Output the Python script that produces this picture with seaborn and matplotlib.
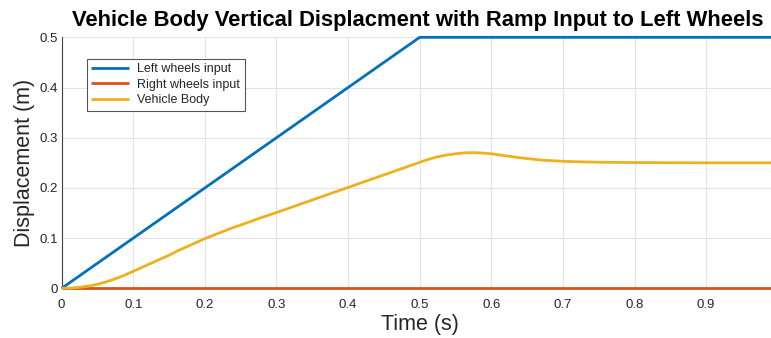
import matplotlib
matplotlib.use("Agg")
import matplotlib.pyplot as plt
import seaborn as sns
import pandas as pd

# ---- data ----
left_t = [0.0, 0.5, 1.0]
left_y = [0.0, 0.5, 0.5]
right_t = [0.0, 1.0]
right_y = [0.0, 0.0]
body_t = [0, 0.0125, 0.025, 0.0375, 0.05, 0.0625, 0.075, 0.0875, 0.1, 0.1125,
          0.125, 0.1375, 0.15, 0.1625, 0.175, 0.1875, 0.2, 0.2125, 0.225, 0.2375,
          0.25, 0.275, 0.3, 0.35, 0.4, 0.45, 0.475, 0.5, 0.5125, 0.525, 0.5375,
          0.55, 0.5625, 0.575, 0.5875, 0.6, 0.6125, 0.625, 0.6375, 0.65, 0.6625,
          0.675, 0.6875, 0.7, 0.725, 0.75, 0.8, 0.9, 1.0]
body_y = [0, 0.0005, 0.002, 0.0045, 0.008, 0.013, 0.019, 0.026, 0.034, 0.042,
          0.050, 0.058, 0.066, 0.075, 0.083, 0.091, 0.099, 0.106, 0.113, 0.120,
          0.126, 0.139, 0.151, 0.176, 0.201, 0.226, 0.2385, 0.251, 0.257, 0.262,
          0.2655, 0.268, 0.2698, 0.2702, 0.2695, 0.268, 0.2655, 0.263, 0.2605,
          0.2585, 0.2565, 0.255, 0.254, 0.253, 0.252, 0.2512, 0.2505, 0.250, 0.250]
series_names = ["Left wheels input", "Right wheels input", "Vehicle Body"]
x_ticks = [0, 0.1, 0.2, 0.3, 0.4, 0.5, 0.6, 0.7, 0.8, 0.9]
y_ticks = [0, 0.1, 0.2, 0.3, 0.4, 0.5]

df = pd.concat([
    pd.DataFrame({"t": left_t, "y": left_y, "s": series_names[0]}),
    pd.DataFrame({"t": right_t, "y": right_y, "s": series_names[1]}),
    pd.DataFrame({"t": body_t, "y": body_y, "s": series_names[2]}),
], ignore_index=True)

sns.set_theme(style="white")
plt.rcParams["font.family"] = ["Liberation Sans", "DejaVu Sans"]

fig = plt.figure(figsize=(7.71, 3.38), dpi=100)
ax = fig.add_axes([0.080, 0.147, 0.9287, 0.7426])

palette = {series_names[0]: "#0072BD", series_names[1]: "#D95319",
           series_names[2]: "#EDB120"}
sns.lineplot(data=df, x="t", y="y", hue="s", palette=palette, ax=ax,
             linewidth=2.0, sort=False, estimator=None)
for ln in ax.get_lines():
    ln.set_clip_on(False)
    ln.set_zorder(3)
    ln.set_solid_capstyle("butt")

ax.set_xlim(0, 1)
ax.set_ylim(0, 0.5)
ax.set_xticks(x_ticks)
ax.set_xticklabels([("0" if v == 0 else f"{v:g}") for v in x_ticks])
ax.set_yticks(y_ticks)
ax.set_yticklabels([("0" if v == 0 else f"{v:g}") for v in y_ticks])
ax.grid(True, color="#e3e3e3", linewidth=0.8)
ax.set_axisbelow(True)
for s in ["top", "right"]:
    ax.spines[s].set_visible(False)
for s in ["left", "bottom"]:
    ax.spines[s].set_color("#404040")
    ax.spines[s].set_linewidth(0.8)
ax.tick_params(direction="in", length=5, width=0.8, colors="#404040",
               labelcolor="#262626", labelsize=9.5)
ax.tick_params(axis="x", pad=8)
ax.tick_params(axis="y", pad=3)

ax.set_xlabel("Time (s)", fontsize=15.5, color="#262626", labelpad=2)
ax.set_ylabel("Displacement (m)", fontsize=15.5, color="#262626", labelpad=3)
fig.text(0.5415, 0.94, "Vehicle Body Vertical Displacment with Ramp Input to Left Wheels",
         ha="center", va="center", fontsize=15.8, fontweight="bold", color="black")

leg = ax.legend(loc="upper left", bbox_to_anchor=(0.035, 0.914), fontsize=9,
                frameon=True, fancybox=False, edgecolor="#555555",
                handlelength=3.0, borderpad=0.35, labelspacing=0.28,
                handletextpad=0.7, borderaxespad=0)
leg.get_frame().set_linewidth(0.8)
leg.get_frame().set_facecolor("white")
leg.get_frame().set_alpha(1)

fig.savefig("out.png", dpi=100)
